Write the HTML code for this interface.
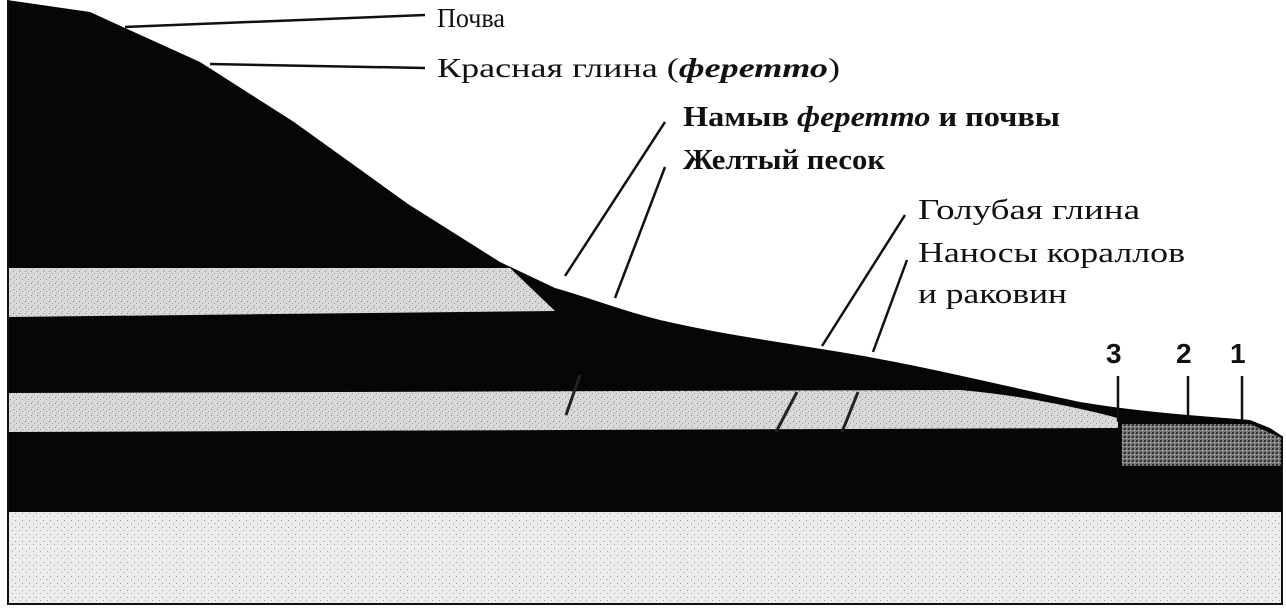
<!DOCTYPE html>
<html><head><meta charset="utf-8"><style>
html,body{margin:0;padding:0;background:#fff;width:1286px;height:610px;overflow:hidden}
svg{display:block}
text{font-family:"Liberation Serif","Noto Serif CJK SC",serif;fill:#111}
</style></head><body>
<svg width="1286" height="610" viewBox="0 0 1286 610" xmlns="http://www.w3.org/2000/svg">
<defs>
<pattern id="sp" width="6" height="6" patternUnits="userSpaceOnUse">
<rect width="6" height="6" fill="#d9d9d9"/>
<rect x="1" y="1" width="1" height="1" fill="#888"/><rect x="4" y="3" width="1" height="1" fill="#999"/><rect x="2" y="5" width="1" height="1" fill="#aaa"/>
</pattern>
<pattern id="sp2" width="7" height="7" patternUnits="userSpaceOnUse">
<rect width="7" height="7" fill="#ececec"/>
<rect x="1" y="2" width="1" height="1" fill="#999"/><rect x="5" y="5" width="1" height="1" fill="#aaa"/>
</pattern>
<pattern id="sp3" width="4" height="4" patternUnits="userSpaceOnUse">
<rect width="4" height="4" fill="#777"/>
<rect x="0" y="0" width="2" height="2" fill="#333"/><rect x="2" y="2" width="1" height="1" fill="#ccc"/>
</pattern>
</defs>
<!-- main black mass -->
<path d="M7,0 L90,12 L125,28 L200,62 L294,122 L408,204 L500,262 L555,288 C590,298 620,310 660,320 C720,334 780,342 840,352 C920,365 1000,385 1080,402 C1140,412 1200,416 1250,420 L1270,428 L1282,436 L1282,512 L7,512 Z" fill="#060606"/>
<!-- light band 1 -->
<path d="M8,268 L510,268 L555,311 L8,317 Z" fill="url(#sp)"/>
<!-- light band 2 -->
<path d="M8,393 L960,390 C1020,395 1080,408 1118,418 L1118,428 L8,432 Z" fill="url(#sp)"/>
<!-- coral speckle zone -->
<path d="M1122,424 L1250,424 L1282,438 L1282,466 L1122,466 Z" fill="url(#sp3)"/>
<!-- bottom light band -->
<rect x="8" y="512" width="1274" height="92" fill="url(#sp2)"/>
<path d="M8,0 L8,604 L1282,604 L1282,436" fill="none" stroke="#111" stroke-width="2"/>
<!-- leader lines -->
<g stroke="#111" stroke-width="2.5" fill="none">
<line x1="125" y1="27" x2="425" y2="15"/>
<line x1="210" y1="64" x2="425" y2="68"/>
<line x1="665" y1="122" x2="565" y2="276"/>
<line x1="665" y1="167" x2="615" y2="298"/>
<line x1="905" y1="215" x2="822" y2="346"/>
<line x1="907" y1="260" x2="873" y2="352"/>
<line x1="1118" y1="376" x2="1118" y2="422"/>
<line x1="1188" y1="376" x2="1188" y2="420"/>
<line x1="1242" y1="376" x2="1242" y2="420"/>
</g>
<g stroke="#222" stroke-width="3" fill="none">
<line x1="580" y1="375" x2="566" y2="415"/>
<line x1="797" y1="392" x2="776" y2="432"/>
<line x1="858" y1="392" x2="842" y2="432"/>
</g>
<!-- labels -->
<text x="437" y="27" font-size="27" textLength="68" lengthAdjust="spacingAndGlyphs">Почва</text>
<text x="437" y="77" font-size="27" textLength="403" lengthAdjust="spacingAndGlyphs">Красная глина (<tspan font-style="italic" font-weight="bold">феретто</tspan>)</text>
<text x="683" y="126" font-size="28" font-weight="bold" textLength="377" lengthAdjust="spacingAndGlyphs">Намыв <tspan font-style="italic">феретто</tspan> и почвы</text>
<text x="683" y="169" font-size="28" font-weight="bold" textLength="202" lengthAdjust="spacingAndGlyphs">Желтый песок</text>
<text x="918" y="219" font-size="28" textLength="222" lengthAdjust="spacingAndGlyphs">Голубая глина</text>
<text x="918" y="262" font-size="28" textLength="267" lengthAdjust="spacingAndGlyphs">Наносы кораллов</text>
<text x="918" y="303" font-size="28" textLength="149" lengthAdjust="spacingAndGlyphs">и раковин</text>
<text x="1106" y="363" font-size="28" font-weight="bold" style="font-family:'Liberation Sans',sans-serif">3</text>
<text x="1176" y="363" font-size="28" font-weight="bold" style="font-family:'Liberation Sans',sans-serif">2</text>
<text x="1230" y="363" font-size="28" font-weight="bold" style="font-family:'Liberation Sans',sans-serif">1</text>
</svg>
</body></html>
